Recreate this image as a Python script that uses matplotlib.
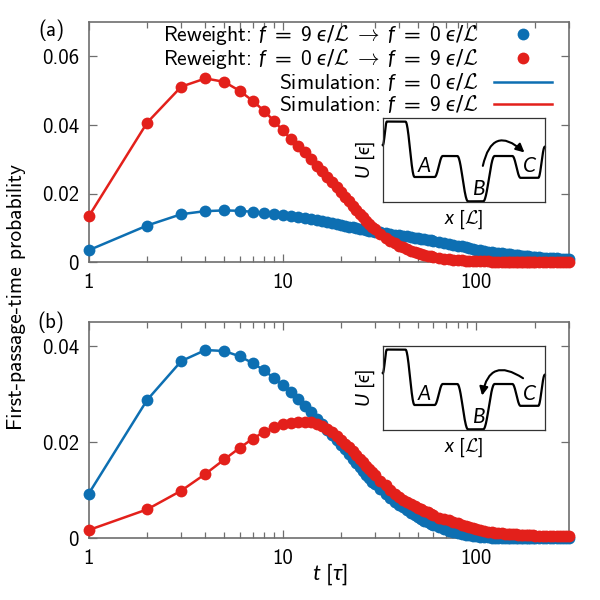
import numpy as np
import matplotlib
matplotlib.use("Agg")
import matplotlib.pyplot as plt
from matplotlib.patches import FancyArrowPatch
from matplotlib.ticker import FixedLocator, FuncFormatter, LogLocator, NullFormatter

# ---------------- data ----------------
t = (list(range(1, 31)) + list(range(32, 61, 2)) + list(range(64, 101, 4))
     + list(range(105, 201, 5)) + list(range(210, 301, 10)))

# panel (a): barrier crossing A -> C
a_f0 = [0.0035, 0.0107, 0.0140, 0.0149, 0.0151, 0.0150, 0.0147, 0.0144, 0.0141, 0.0138,
        0.0135, 0.0131, 0.0128, 0.0125, 0.0122, 0.0119, 0.0116, 0.0113, 0.0110, 0.0108,
        0.0106, 0.0104, 0.0102, 0.0100, 0.0098, 0.0096, 0.0094, 0.0092, 0.0091, 0.0089,
        0.0087, 0.0084, 0.0082, 0.0080, 0.0078, 0.0077, 0.0075, 0.0073, 0.0072, 0.0070,
        0.0069, 0.0067, 0.0066, 0.0064, 0.0063,
        0.0060, 0.0057, 0.0054, 0.0051, 0.0048, 0.0046, 0.0043, 0.0041, 0.0039, 0.0037,
        0.0035, 0.0033, 0.0031, 0.0030, 0.0028, 0.0027, 0.0026, 0.0025, 0.0024, 0.0023,
        0.0022, 0.0021, 0.0020, 0.0019, 0.0018, 0.0018, 0.0017, 0.0016, 0.0016, 0.0015,
        0.0014, 0.0013, 0.0013, 0.0012, 0.0011, 0.0011, 0.0010, 0.0010, 0.0009, 0.0009]
a_f9 = [0.0134, 0.0407, 0.0512, 0.0536, 0.0526, 0.0500, 0.0471, 0.0442, 0.0413, 0.0385,
        0.0360, 0.0340, 0.0320, 0.0300, 0.0282, 0.0265, 0.0248, 0.0233, 0.0219, 0.0205,
        0.0191, 0.0178, 0.0165, 0.0153, 0.0142, 0.0131, 0.0121, 0.0112, 0.0104, 0.0096,
        0.0083, 0.0072, 0.0063, 0.0055, 0.0048, 0.0043, 0.0038, 0.0034, 0.0030, 0.0027,
        0.0024, 0.0021, 0.0019, 0.0017, 0.0015,
        0.0012, 0.0010, 0.0008, 0.0007, 0.0006, 0.0005, 0.0004, 0.0004, 0.0003, 0.0003,
        0.0003, 0.0003, 0.0003, 0.0002, 0.0002, 0.0002, 0.0002, 0.0002, 0.0002, 0.0002,
        0.0002, 0.0001, 0.0001, 0.0001, 0.0001, 0.0001, 0.0001, 0.0001, 0.0001, 0.0001,
        0.0001, 0.0001, 0.0001, 0.0001, 0.0001, 0.0001, 0.0001, 0.0001, 0.0001, 0.0001]

# panel (b): barrier crossing C -> B
b_f0 = [0.0093, 0.0288, 0.0369, 0.0392, 0.0390, 0.0379, 0.0365, 0.0350, 0.0334, 0.0319,
        0.0304, 0.0289, 0.0275, 0.0262, 0.0249, 0.0237, 0.0226, 0.0215, 0.0205, 0.0195,
        0.0185, 0.0175, 0.0166, 0.0157, 0.0148, 0.0140, 0.0132, 0.0125, 0.0118, 0.0112,
        0.0102, 0.0092, 0.0084, 0.0076, 0.0069, 0.0064, 0.0058, 0.0053, 0.0048, 0.0044,
        0.0040, 0.0036, 0.0033, 0.0030, 0.0027,
        0.0023, 0.0019, 0.0016, 0.0013, 0.0011, 0.0009, 0.0007, 0.0006, 0.0005, 0.0004,
        0.0003, 0.0002, 0.0002, 0.0001, 0.0001, 0.0001, 0.0001, 0.0001, 0.0001, 0.0001,
        0.0000, 0.0000, 0.0000, 0.0000, 0.0000, 0.0000, 0.0000, 0.0000, 0.0000, 0.0000,
        0.0000, 0.0000, 0.0000, 0.0000, 0.0000, 0.0000, 0.0000, 0.0000, 0.0000, 0.0000]
b_f9 = [0.0017, 0.0060, 0.0099, 0.0134, 0.0164, 0.0188, 0.0207, 0.0221, 0.0231, 0.0237,
        0.0240, 0.0242, 0.0243, 0.0242, 0.0238, 0.0234, 0.0228, 0.0221, 0.0213, 0.0205,
        0.0197, 0.0189, 0.0181, 0.0173, 0.0165, 0.0158, 0.0151, 0.0144, 0.0137, 0.0131,
        0.0120, 0.0110, 0.0101, 0.0093, 0.0086, 0.0080, 0.0075, 0.0071, 0.0067, 0.0063,
        0.0060, 0.0057, 0.0054, 0.0051, 0.0048,
        0.0043, 0.0040, 0.0037, 0.0034, 0.0031, 0.0028, 0.0025, 0.0023, 0.0021, 0.0019,
        0.0017, 0.0015, 0.0013, 0.0012, 0.0011, 0.0010, 0.0010, 0.0009, 0.0009, 0.0008,
        0.0008, 0.0008, 0.0007, 0.0007, 0.0007, 0.0006, 0.0006, 0.0006, 0.0006, 0.0005,
        0.0005, 0.0005, 0.0005, 0.0005, 0.0004, 0.0004, 0.0004, 0.0004, 0.0004, 0.0004]

x_ticks = [1, 10, 100]
x_tick_labels = ["1", "10", "100"]
a_yticks = [0, 0.02, 0.04, 0.06]
b_yticks = [0, 0.02, 0.04]
a_ylim = (0, 0.07)
b_ylim = (0, 0.045)
x_lim = (1, 300)

labels = [r"Reweight: $f\ =\ 9\ ϵ\mathsf{/}\mathcal{L}\ \rightarrow\ f\ =\ 0\ ϵ\mathsf{/}\mathcal{L}$",
          r"Reweight: $f\ =\ 0\ ϵ\mathsf{/}\mathcal{L}\ \rightarrow\ f\ =\ 9\ ϵ\mathsf{/}\mathcal{L}$",
          r"Simulation: $f\ =\ 0\ ϵ\mathsf{/}\mathcal{L}$",
          r"Simulation: $f\ =\ 9\ ϵ\mathsf{/}\mathcal{L}$"]

# schematic potential for the insets (knots of the sketch)
pot_x = [0.0, 0.025, 0.14, 0.196, 0.32, 0.37, 0.46, 0.526, 0.62, 0.69, 0.80, 0.85, 0.96, 1.0]
pot_u = [0.68, 0.96, 0.96, 0.30, 0.30, 0.55, 0.55, 0.01, 0.01, 0.55, 0.55, 0.29, 0.29, 0.66]

BLUE = "#0d6fb2"
RED = "#e3201b"
SPINE = "#6e6e6e"

plt.rcParams["font.family"] = ["cmss10", "DejaVu Sans"]
plt.rcParams["mathtext.fontset"] = "custom"
plt.rcParams["mathtext.rm"] = "cmss10"
plt.rcParams["mathtext.it"] = "Lato:italic"
plt.rcParams["mathtext.sf"] = "DejaVu Sans"
plt.rcParams["mathtext.cal"] = "cmsy10"
plt.rcParams["axes.unicode_minus"] = False

fig = plt.figure(figsize=(6, 6), dpi=100)
ax_a = fig.add_axes([0.148, 0.563, 0.800, 0.400])
ax_b = fig.add_axes([0.148, 0.103, 0.800, 0.360])

def style(ax, yticks, ylim):
    ax.set_xscale("log")
    ax.set_xlim(*x_lim)
    ax.set_ylim(*ylim)
    ax.xaxis.set_major_locator(FixedLocator(x_ticks))
    ax.xaxis.set_major_formatter(FuncFormatter(lambda v, p: x_tick_labels[x_ticks.index(int(round(v)))] if int(round(v)) in x_ticks else ""))
    ax.xaxis.set_minor_locator(LogLocator(base=10, subs=np.arange(2, 10)))
    ax.xaxis.set_minor_formatter(NullFormatter())
    ax.yaxis.set_major_locator(FixedLocator(yticks))
    ax.yaxis.set_major_formatter(FuncFormatter(lambda v, p: "0" if v == 0 else f"{v:g}"))
    ax.tick_params(which="both", direction="in", top=True, right=True, labelsize=15,
                   color=SPINE, width=0.9)
    ax.tick_params(which="major", length=6)
    ax.tick_params(which="minor", length=4)
    ax.tick_params(axis="x", pad=8)
    ax.tick_params(axis="y", pad=7)
    for s in ax.spines.values():
        s.set_color(SPINE)
        s.set_linewidth(1.2)

def draw(ax, y0, y9):
    h1, = ax.plot(t, y0, "o", color=BLUE, ms=8.5, mec="none", clip_on=False, zorder=3)
    h3, = ax.plot(t, y0, "-", color=BLUE, lw=1.8, clip_on=False, zorder=3)
    h2, = ax.plot(t, y9, "o", color=RED, ms=8.5, mec="none", clip_on=False, zorder=4)
    h4, = ax.plot(t, y9, "-", color=RED, lw=1.8, clip_on=False, zorder=4)
    return [h1, h2, h3, h4]

style(ax_a, a_yticks, a_ylim)
style(ax_b, b_yticks, b_ylim)
handles = draw(ax_a, a_f0, a_f9)
draw(ax_b, b_f0, b_f9)

leg = ax_a.legend(handles, labels, loc="upper right", bbox_to_anchor=(0.965, 0.995),
                  frameon=False, markerfirst=False, fontsize=15.5, handlelength=2.7,
                  handletextpad=0.7, labelspacing=0.0, borderpad=0, borderaxespad=0,
                  numpoints=1)

fig.text(0.085, 0.95, "(a)", fontsize=15, ha="center", va="center")
fig.text(0.085, 0.463, "(b)", fontsize=15, ha="center", va="center")
fig.text(0.027, 0.505, "First-passage-time probability", fontsize=15.5, rotation=90,
         ha="center", va="center")
fig.text(0.55, 0.043, r"$t\ [\tau]$", fontsize=16, ha="center", va="center")

# insets
def smooth_curve(xk, uk, n=40):
    xs, us = [], []
    for i in range(len(xk) - 1):
        s = np.linspace(0, 1, n)
        w = (1 - np.cos(np.pi * s)) / 2
        xs.append(xk[i] + (xk[i + 1] - xk[i]) * s)
        us.append(uk[i] + (uk[i + 1] - uk[i]) * w)
    return np.concatenate(xs), np.concatenate(us)

def inset(rect, arrow_start, arrow_end, rad):
    ins = fig.add_axes(rect)
    px, pu = smooth_curve(pot_x, pot_u)
    ins.plot(px, pu, color="black", lw=1.6, clip_on=False)
    ins.set_xlim(0, 1)
    ins.set_ylim(0, 1)
    ins.set_xticks([])
    ins.set_yticks([])
    for s in ins.spines.values():
        s.set_color("#333333")
        s.set_linewidth(0.9)
    ins.text(0.26, 0.42, r"$A$", fontsize=15, ha="center", va="center", transform=ins.transAxes)
    ins.text(0.59, 0.15, r"$B$", fontsize=15, ha="center", va="center", transform=ins.transAxes)
    ins.text(0.905, 0.42, r"$C$", fontsize=15, ha="center", va="center", transform=ins.transAxes)
    ins.set_ylabel(r"$U\ [ϵ]$", fontsize=14, labelpad=4)
    ins.set_xlabel(r"$x\ [\mathcal{L}]$", fontsize=14, labelpad=4)
    arr = FancyArrowPatch(arrow_start, arrow_end, connectionstyle=f"arc3,rad={rad}",
                          arrowstyle="-|>,head_length=5,head_width=2.5", color="black",
                          lw=1.5, transform=ins.transAxes, mutation_scale=1)
    ins.add_patch(arr)
    return ins

inset([0.638, 0.663, 0.27, 0.14], (0.614, 0.40), (0.887, 0.57), -0.9)
inset([0.638, 0.283, 0.27, 0.14], (0.88, 0.60), (0.61, 0.38), 0.8)

fig.savefig("out.png", dpi=100)
